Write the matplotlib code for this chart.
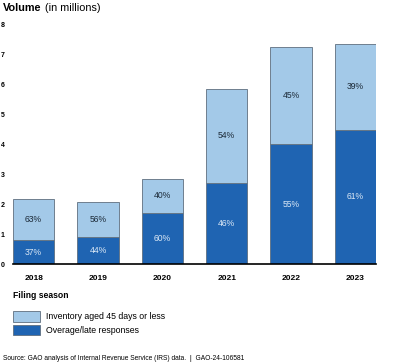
import numpy as np
import matplotlib.pyplot as plt

plt.rcParams['font.family'] = ['Liberation Sans', 'DejaVu Sans']

# data (millions)
years = ['2018', '2019', '2020', '2021', '2022', '2023']
overage = [0.80, 0.92, 1.72, 2.71, 4.00, 4.50]
inventory = [1.37, 1.14, 1.14, 3.15, 3.27, 2.86]
pct_overage = ['37%', '44%', '60%', '46%', '55%', '61%']
pct_inventory = ['63%', '56%', '40%', '54%', '45%', '39%']

light = '#a3c9e8'
dark = '#1f64b2'
edge = '#5f6f7f'
barWidth = 0.64

fig = plt.figure(figsize=(4, 3.63), dpi=100)
ax = fig.add_axes([0.0325, 0.2727, 0.9075, 0.6585])

x = np.arange(len(years))
b1 = ax.bar(x, overage, width=barWidth, color=dark, edgecolor=edge,
            linewidth=0.6, label='Overage/late responses')
b2 = ax.bar(x, inventory, width=barWidth, bottom=overage, color=light,
            edgecolor=edge, linewidth=0.6, label='Inventory aged 45 days or less')

# percent labels in the middle of each segment
for i in range(len(years)):
    ax.text(x[i], overage[i] / 2, pct_overage[i], ha='center', va='center',
            fontsize=6.2, color='#dce9f6')
    ax.text(x[i], overage[i] + inventory[i] / 2, pct_inventory[i],
            ha='center', va='center', fontsize=6.2, color='#1c2a38')

ax.set_xlim(-barWidth / 2, len(years) - 1 + barWidth / 2)
ax.set_ylim(0, 8)
ax.set_xticks(x)
ax.set_xticklabels(years, fontweight='bold', fontsize=6)
ax.set_yticks(range(0, 9))
ax.set_yticklabels([str(v) for v in range(0, 9)], fontweight='bold', fontsize=5)
ax.tick_params(axis='both', length=0)
ax.tick_params(axis='x', pad=8)
ax.tick_params(axis='y', pad=6)
for s in ['top', 'right', 'left']:
    ax.spines[s].set_visible(False)
ax.spines['bottom'].set_linewidth(1.2)
ax.spines['bottom'].set_color('black')

fig.text(0.008, 0.978, 'Volume', fontweight='bold', fontsize=7.8,
         va='center', ha='left')
fig.text(0.112, 0.978, '(in millions)', fontsize=7.8, va='center', ha='left')
fig.text(0.032, 1 - 296 / 363, 'Filing season', fontweight='bold',
         fontsize=6.2, va='center', ha='left')

fig.legend(handles=[b2, b1], loc='upper left',
           bbox_to_anchor=(13 / 400, 1 - 311 / 363), frameon=False,
           fontsize=6.3, handlelength=3.1, handleheight=1.5,
           handletextpad=0.7, labelspacing=0.35, borderpad=0,
           borderaxespad=0)

fig.text(0.008, 1 - 359 / 363,
         'Source: GAO analysis of Internal Revenue Service (IRS) data.  |  GAO-24-106581',
         fontsize=4.8, va='center', ha='left')

fig.savefig('out.png', dpi=100)
